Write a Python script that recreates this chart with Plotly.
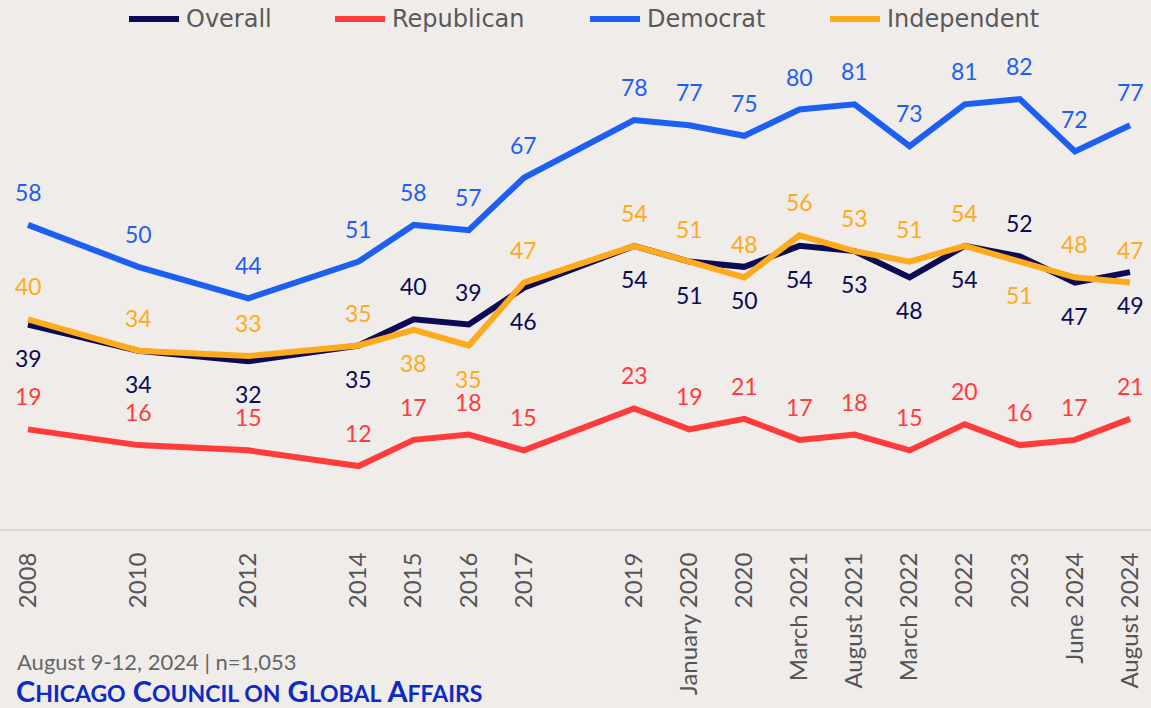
import plotly.graph_objects as go

periods = ["2008", "2010", "2012", "2014", "2015", "2016", "2017", "2019",
           "January 2020", "2020", "March 2021", "August 2021", "March 2022",
           "2022", "2023", "June 2024", "August 2024"]
# position on time axis (gaps where surveys were skipped)
period_pos = [0, 2, 4, 6, 7, 8, 9, 11, 12, 13, 14, 15, 16, 17, 18, 19, 20]

overall = [39, 34, 32, 35, 40, 39, 46, 54, 51, 50, 54, 53, 48, 54, 52, 47, 49]
republican = [19, 16, 15, 12, 17, 18, 15, 23, 19, 21, 17, 18, 15, 20, 16, 17, 21]
democrat = [58, 50, 44, 51, 58, 57, 67, 78, 77, 75, 80, 81, 73, 81, 82, 72, 77]
independent = [40, 34, 33, 35, 38, 35, 47, 54, 51, 48, 56, 53, 51, 54, 51, 48, 47]

# label side: 1 = above the line, -1 = below
overall_side = [-1, -1, -1, -1, 1, 1, -1, -1, -1, -1, -1, -1, -1, -1, 1, -1, -1]
republican_side = [1] * 17
democrat_side = [1] * 17
independent_side = [1, 1, 1, 1, -1, -1, 1, 1, 1, 1, 1, 1, 1, 1, -1, 1, 1]

series = [
    ("Overall", overall, overall_side, "#0b0b55"),
    ("Republican", republican, republican_side, "#ff3b3b"),
    ("Democrat", democrat, democrat_side, "#1d5ff2"),
    ("Independent", independent, independent_side, "#fdab1c"),
]

W, H = 1151, 708
M_T, M_B = 40, 179
PLOT_H = H - M_T - M_B
BG = "#f0ecea"
LABEL_FONT = "Lato"


def py(px_from_top):
    """paper y coordinate for a pixel row"""
    return (H - M_B - px_from_top) / PLOT_H


fig = go.Figure()
annotations = []
shapes = []
for name, vals, sides, color in series:
    fig.add_trace(go.Scatter(
        x=period_pos, y=vals, mode="lines", name=name,
        line=dict(color=color, width=6),
        hoverinfo="skip", showlegend=False,
    ))
    for xp, v, s in zip(period_pos, vals, sides):
        annotations.append(dict(
            x=xp, y=v, xref="x", yref="y", text=str(v), showarrow=False,
            yshift=33 * s, xanchor="center", yanchor="middle",
            font=dict(family=LABEL_FONT, size=23, color=color),
        ))

# custom legend
legend_x = [126, 332, 587, 827]
for (name, _, _, color), lx in zip(series, legend_x):
    shapes.append(dict(
        type="line", xref="paper", yref="paper",
        x0=(lx + 3) / W, x1=(lx + 53) / W, y0=py(19), y1=py(19),
        line=dict(color=color, width=6),
    ))
    annotations.append(dict(
        xref="paper", yref="paper", x=(lx + 58) / W, y=py(19),
        xanchor="left", yanchor="middle", text=name, showarrow=False,
        font=dict(family="DejaVu Sans", size=24, color="#595959"),
    ))

annotations.append(dict(
    xref="paper", yref="paper", x=15 / W, y=py(661),
    xanchor="left", yanchor="middle",
    text="August 9-12, 2024 | n=1,053", showarrow=False,
    font=dict(family=LABEL_FONT, size=22, color="#666666"),
))
sc = "font-size:23px"
annotations.append(dict(
    xref="paper", yref="paper", x=14 / W, y=py(690),
    xanchor="left", yanchor="middle",
    text=("C<span style='%s'>HICAGO</span> C<span style='%s'>OUNCIL ON</span> "
          "G<span style='%s'>LOBAL</span> A<span style='%s'>FFAIRS</span>") % (sc, sc, sc, sc),
    showarrow=False,
    font=dict(family=LABEL_FONT, size=29, color="#0a2bc6", weight="bold"),
))

fig.update_layout(
    width=W, height=H,
    paper_bgcolor=BG, plot_bgcolor=BG,
    margin=dict(l=0, r=0, t=M_T, b=M_B, autoexpand=False),
    showlegend=False,
    annotations=annotations,
    shapes=shapes,
)
fig.update_xaxes(
    range=[-28 / 55.1, 20 + 21 / 55.1],
    tickmode="array", tickvals=period_pos, ticktext=periods,
    tickangle=-90, showgrid=False, zeroline=False,
    showline=True, linecolor="#d8d8dc", linewidth=2,
    ticks="", ticklabelstandoff=12, automargin=False,
    tickfont=dict(family=LABEL_FONT, size=24, color="#555555"),
)
fig.update_yaxes(
    range=[0, PLOT_H / 5.243], visible=False, showgrid=False, zeroline=False,
)

fig.write_html(
    "out.html",
    config={"displayModeBar": False},
    post_script="document.body.style.margin='0';document.body.style.padding='0';"
                "window.dispatchEvent(new Event('resize'));",
)
